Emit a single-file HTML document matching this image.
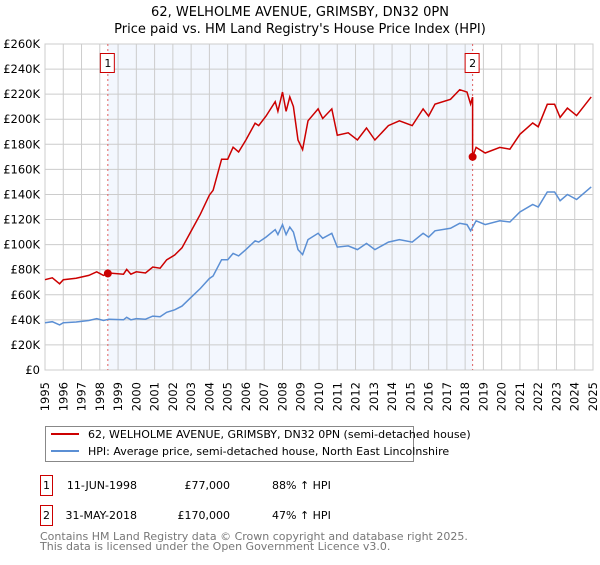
<!DOCTYPE html>
<html><head><meta charset="utf-8">
<style>
body{margin:0;background:#fff;font-family:"Liberation Sans","DejaVu Sans",sans-serif;}
svg text{font-family:"DejaVu Sans","Liberation Sans",sans-serif;}
</style></head>
<body>
<svg id="chart" width="600" height="560" xmlns="http://www.w3.org/2000/svg">
<text x="300" y="16" text-anchor="middle" font-size="13">62, WELHOLME AVENUE, GRIMSBY, DN32 0PN</text>
<text x="300" y="33" text-anchor="middle" font-size="13">Price paid vs. HM Land Registry's House Price Index (HPI)</text>
<g id="plot"></g>
<g>
<rect x="45.5" y="426.5" width="368" height="35" fill="#fff" stroke="#888"/>
<line x1="51" y1="434" x2="79" y2="434" stroke="#cc0000" stroke-width="2"/>
<text x="88" y="438" font-size="11">62, WELHOLME AVENUE, GRIMSBY, DN32 0PN (semi-detached house)</text>
<line x1="51" y1="451" x2="79" y2="451" stroke="#5b8fd4" stroke-width="2"/>
<text x="88" y="455" font-size="11">HPI: Average price, semi-detached house, North East Lincolnshire</text>
</g>
<g font-size="11">
<rect x="40.5" y="475.5" width="12" height="20" fill="#fff" stroke="#cc0000"/>
<text x="46.5" y="489" text-anchor="middle">1</text>
<text x="137" y="489" text-anchor="end">11-JUN-1998</text>
<text x="230" y="489" text-anchor="end">£77,000</text>
<text x="272" y="489">88% ↑ HPI</text>
<rect x="40.5" y="505.5" width="12" height="20" fill="#fff" stroke="#cc0000"/>
<text x="46.5" y="519" text-anchor="middle">2</text>
<text x="137" y="519" text-anchor="end">31-MAY-2018</text>
<text x="230" y="519" text-anchor="end">£170,000</text>
<text x="272" y="519">47% ↑ HPI</text>
</g>
<text x="40" y="540" font-size="11" fill="#777">Contains HM Land Registry data © Crown copyright and database right 2025.</text>
<text x="40" y="550" font-size="11" fill="#777">This data is licensed under the Open Government Licence v3.0.</text>
</svg>
<script>
const hpiYears=[1995.0,1995.4,1995.8,1996.0,1996.7,1997.4,1997.83,1998.2,1998.5,1999.3,1999.47,1999.7,2000.0,2000.5,2000.9,2001.3,2001.66,2002.1,2002.5,2003.0,2003.5,2004.0,2004.2,2004.67,2005.0,2005.3,2005.6,2006.0,2006.5,2006.7,2007.1,2007.6,2007.75,2008.0,2008.2,2008.4,2008.6,2008.85,2009.1,2009.4,2009.95,2010.2,2010.7,2011.0,2011.6,2012.1,2012.6,2013.06,2013.8,2014.4,2015.1,2015.7,2016.0,2016.35,2017.2,2017.7,2018.1,2018.3,2018.6,2019.1,2019.9,2020.45,2021.0,2021.7,2022.0,2022.5,2022.9,2023.2,2023.6,2024.1,2024.9];
const hpiValues=[37.7,38.5,36,37.7,38.3,39.5,41,39.5,40.5,40,42,40,41,40.5,43,42.5,46,48,51,58,65,73,75,88,88,93,91,96,103,102,106,112,108,116,108,114,110,96,92,104,109,105,109,98,99,96,101,96,102,104,102,109,106,111,113,117,116,111,119,116,119,118,126,132,130,142,142,135,140,136,146];
const saleYears=[1998.44,2018.41];
const salePrices=[77,170];
const saleLabels=["1","2"];
const yTicks=[0,20,40,60,80,100,120,140,160,180,200,220,240,260];
const yTickLabels=["£0","£20K","£40K","£60K","£80K","£100K","£120K","£140K","£160K","£180K","£200K","£220K","£240K","£260K"];
const xTicks=[1995,1996,1997,1998,1999,2000,2001,2002,2003,2004,2005,2006,2007,2008,2009,2010,2011,2012,2013,2014,2015,2016,2017,2018,2019,2020,2021,2022,2023,2024,2025];

const X0=45,X1=593,Y0=370,Y1=44;
const xs=y=>X0+(y-1995)/30*(X1-X0);
const ys=v=>Y0-v/260*(Y0-Y1);
const NS="http://www.w3.org/2000/svg";
const plot=document.getElementById('plot');
function mk(t,a,p){const e=document.createElementNS(NS,t);for(const k in a)e.setAttribute(k,a[k]);(p||plot).appendChild(e);return e;}
function hpiAt(t){for(let i=0;i<hpiYears.length-1;i++){if(t>=hpiYears[i]&&t<=hpiYears[i+1]){const f=(t-hpiYears[i])/(hpiYears[i+1]-hpiYears[i]);return hpiValues[i]+f*(hpiValues[i+1]-hpiValues[i]);}}return hpiValues[hpiValues.length-1];}

const shade=mk('rect',{x:xs(saleYears[0]),y:Y1,width:xs(saleYears[1])-xs(saleYears[0]),height:Y0-Y1,fill:'#eef3fd',opacity:0.7});


yTicks.forEach((v,i)=>{
  const l=mk('line',{x1:X0,x2:X1,y1:ys(v),y2:ys(v),stroke:'#cccccc'});
  
  
  const t=mk('text',{x:X0-5,y:ys(v)+4,'text-anchor':'end','font-size':'11.5'});
  t.textContent=yTickLabels[i];
  
  
});
xTicks.forEach(y=>{
  const l=mk('line',{x1:xs(y),x2:xs(y),y1:Y1,y2:Y0,stroke:'#cccccc'});
  
  
  const t=mk('text',{x:0,y:0,'text-anchor':'end','font-size':'11.5',transform:`translate(${xs(y)+4},382) rotate(-90)`});
  t.textContent=y;
  
  
});
const frame=mk('rect',{x:X0,y:Y1,width:X1-X0,height:Y0-Y1,fill:'none',stroke:'#cccccc'});



saleYears.forEach(s=>{
  const l=mk('line',{x1:xs(s),x2:xs(s),y1:Y1,y2:Y0,stroke:'#e06060','stroke-dasharray':'2,3'});
  
  
});

// HPI line
let d='';
hpiYears.forEach((t,i)=>{d+=(i?'L':'M')+xs(t).toFixed(1)+','+ys(hpiValues[i]).toFixed(1);});
const hp=mk('path',{d:d,fill:'none',stroke:'#5b8fd4','stroke-width':1.5});



// Property line: HPI scaled from each sale
const f1=salePrices[0]/hpiAt(saleYears[0]);
const f2=salePrices[1]/hpiAt(saleYears[1]);
let pts=[];
hpiYears.forEach((t,i)=>{if(t<saleYears[1])pts.push([t,hpiValues[i]*f1]);});
pts.push([saleYears[1],hpiAt(saleYears[1])*f1]);
pts.push([saleYears[1],salePrices[1]]);
hpiYears.forEach((t,i)=>{if(t>saleYears[1])pts.push([t,hpiValues[i]*f2]);});
let d2='';
pts.forEach((p,i)=>{d2+=(i?'L':'M')+xs(p[0]).toFixed(1)+','+ys(p[1]).toFixed(1);});
const pp=mk('path',{d:d2,fill:'none',stroke:'#cc0000','stroke-width':1.5});



saleYears.forEach((s,i)=>{
  const c=mk('circle',{cx:xs(s),cy:ys(salePrices[i]),r:4,fill:'#cc0000'});
  
  
  const b=mk('rect',{x:xs(s)-7.5,y:53.5,width:14,height:19,fill:'#fff',stroke:'#cc0000'});
  
  
  const t=mk('text',{x:xs(s),y:67,'text-anchor':'middle','font-size':'11'});
  t.textContent=saleLabels[i];
  
  
});
</script>
</body></html>
